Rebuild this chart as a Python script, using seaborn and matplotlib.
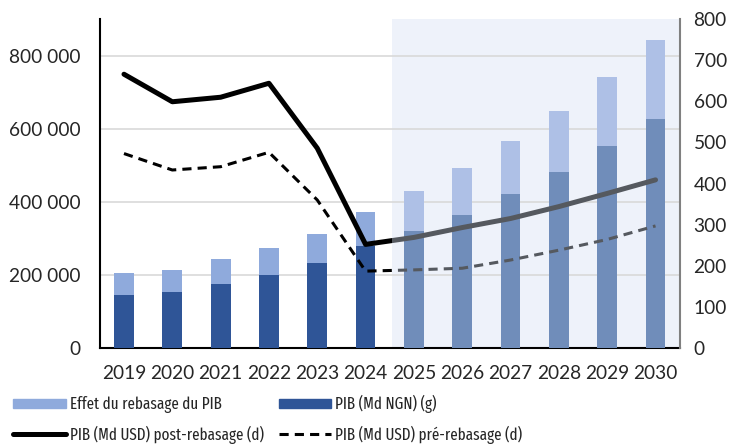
import numpy as np
import seaborn as sns
import matplotlib.pyplot as plt
from matplotlib.patches import Patch
from matplotlib.lines import Line2D
from matplotlib.ticker import FuncFormatter

years = ["2019", "2020", "2021", "2022", "2023", "2024",
         "2025", "2026", "2027", "2028", "2029", "2030"]
pib_ngn = [145000, 153000, 176000, 200000, 233000, 278000,
           321000, 365000, 421000, 482000, 552000, 627000]
pib_total = [205000, 214000, 244000, 274000, 312000, 373000,
             429000, 492000, 566000, 649000, 742000, 844000]
usd_post = [666, 599, 610, 644, 486, 252, 269, 293, 315, 344, 376, 409]
usd_pre = [473, 433, 441, 476, 360, 187, 190, 194, 214, 238, 264, 297]
n_hist = 6

sns.set_style("white")
plt.rcParams["font.family"] = ["Lato", "DejaVu Sans"]

light = ["#8faadc"] * n_hist + ["#aec0e6"] * (len(years) - n_hist)
dark = ["#2f5597"] * n_hist + ["#708dba"] * (len(years) - n_hist)

fig = plt.figure(figsize=(7.34, 4.45), dpi=100)
ax = fig.add_axes([0.136, 0.218, 0.79, 0.739])

split = n_hist - 0.45
ax.axvspan(split, len(years) - 0.5, color="#eef2fa", zorder=0, lw=0)

sns.barplot(x=years, y=pib_total, hue=years, palette=light, width=0.41,
            saturation=1, linewidth=0, legend=False, ax=ax, zorder=2)
sns.barplot(x=years, y=pib_ngn, hue=years, palette=dark, width=0.41,
            saturation=1, linewidth=0, legend=False, ax=ax, zorder=3)

ax.set_ylim(0, 900000)
ax.set_xlim(-0.5, len(years) - 0.5)
ax.set_yticks([0, 200000, 400000, 600000, 800000])
ax.yaxis.set_major_formatter(FuncFormatter(lambda v, p: f"{v:,.0f}".replace(",", " ")))
ax.grid(axis="y", color="#d9d9d9", lw=1.2, zorder=1)
ax.set_axisbelow(True)
ax.tick_params(axis="y", length=0, labelsize=13.8, pad=14)
ax.tick_params(axis="x", length=0, labelsize=13.8, pad=12)
ax.set_xlabel("")
ax.set_ylabel("")
for s in ["top", "right"]:
    ax.spines[s].set_visible(False)
ax.spines["left"].set_color("black")
ax.spines["left"].set_linewidth(1.5)
ax.spines["bottom"].set_color("black")
ax.spines["bottom"].set_linewidth(1.5)

ax2 = ax.twinx()
x = np.arange(len(years))
sns.lineplot(x=x, y=usd_post, color="black", lw=3.6, ax=ax2)
sns.lineplot(x=x, y=usd_pre, color="black", lw=2.2, linestyle=(0, (3, 2)), ax=ax2)
g1 = ax2.plot(x, usd_post, color="#55595f", lw=3.6, solid_capstyle="round")[0]
g2 = ax2.plot(x, usd_pre, color="#55595f", lw=2.2, linestyle=(0, (3, 2)))[0]
clip_right = plt.Rectangle((split, -100), 20, 1000, transform=ax2.transData)
clip_left = plt.Rectangle((-20, -100), split + 20, 1000, transform=ax2.transData)
for ln in ax2.lines[:2]:
    ln.set_clip_path(clip_left)
g1.set_clip_path(clip_right)
g2.set_clip_path(clip_right)

ax2.set_ylim(0, 800)
ax2.set_yticks(range(0, 801, 100))
ax2.tick_params(axis="y", length=0, labelsize=13.8, pad=10)
ax2.set_ylabel("")
for s in ["top", "left", "bottom"]:
    ax2.spines[s].set_visible(False)
ax2.spines["right"].set_color("#808080")
ax2.spines["right"].set_linewidth(1.5)

handles = [
    Patch(color="#8faadc", label="Effet du rebasage du PIB"),
    Line2D([], [], color="black", lw=3.6, label="PIB (Md USD) post-rebasage (d)"),
    Patch(color="#2f5597", label="PIB (Md NGN) (g)"),
    Line2D([], [], color="black", lw=2.2, linestyle=(0, (3, 2)),
           label="PIB (Md USD) pré-rebasage (d)"),
]
fig.legend(handles=handles, ncol=2, loc="lower left", bbox_to_anchor=(-0.002, -0.03),
           frameon=False, handlelength=3.2, handleheight=0.45,
           handletextpad=0.25, columnspacing=0.9, labelspacing=0.75,
           prop={"family": ["Fira Sans Extra Condensed", "DejaVu Sans"], "size": 11.8})

fig.savefig("out.png", dpi=100)
